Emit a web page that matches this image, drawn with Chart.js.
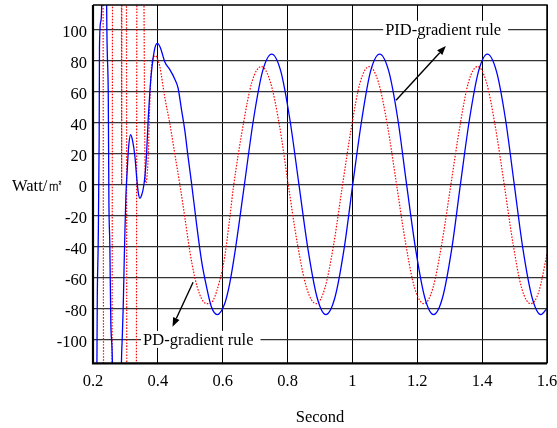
<!DOCTYPE html>
<html>
<head>
<meta charset="utf-8">
<script src="https://cdn.jsdelivr.net/npm/chart.js@4/dist/chart.umd.min.js"></script>
<style>
  html, body { margin: 0; padding: 0; background: #fff; }
  #wrap { width: 557px; height: 428px; position: relative; }
</style>
</head>
<body>
<div id="wrap"><canvas id="chart"></canvas></div>
<script>
// tick labels
const xTicks = [0.2, 0.4, 0.6, 0.8, 1, 1.2, 1.4, 1.6];
const yTicks = [-100, -80, -60, -40, -20, 0, 20, 40, 60, 80, 100];

// PID-gradient rule (solid blue)
const pidTime = [
  0.200, 0.2120, 0.2132, 0.2160, 0.2190, 0.2200, 0.2240, 0.2270, 0.2330,
  0.2380, 0.2420, 0.2470, 0.2490, 0.2520, 0.2550, 0.2600, 0.2700,
  0.2750, 0.2875, 0.2902, 0.2932, 0.2963, 0.2985, 0.3015, 0.3055, 0.3098,
  0.3160, 0.3222, 0.3292, 0.3345, 0.3394, 0.3446, 0.3498, 0.3548, 0.3600,
  0.3652, 0.3702, 0.3754, 0.3806, 0.3908, 0.3991, 0.4080, 0.4215, 0.4370,
  0.4520, 0.4625, 0.4730, 0.4830, 0.4930, 0.5037, 0.5190, 0.5345, 0.5500,
  0.5650, 0.5830, 0.6060, 0.6215, 0.6390, 0.6670, 0.6950, 0.7230, 0.7510,
  0.7790, 0.8070, 0.8350, 0.8630, 0.8910, 0.9180, 0.9460, 0.9740, 1.0010,
  1.0290, 1.0560, 1.0840, 1.1120, 1.1400, 1.1670, 1.1950, 1.2230, 1.2500,
  1.2780, 1.3060, 1.3330, 1.3610, 1.3890, 1.4160, 1.4440, 1.4720, 1.4990,
  1.5260, 1.5540, 1.5810, 1.6000
];
const pidWatt = [
  -400, -118, -74, -38, 30, 89, 105, 118, 400,
  400, 118, 60, -10, -40, -90, -118, -400,
  -400, -118, -99, -79, -49, -30, -7, 9, 24,
  32, 28, 18, 5, -5, -9, -7, -3, 5,
  20, 42, 60, 73, 88, 91, 88, 79, 74,
  68, 62, 48, 35, 18, 1, -25, -49, -66,
  -79, -84, -77, -64, -42, 0, 42, 73, 84,
  73, 42, 0, -42, -73, -84, -73, -42, 0,
  42, 73, 84, 73, 42, 0, -42, -73, -84,
  -73, -42, 0, 42, 73, 84, 73, 42, 0,
  -42, -73, -84, -80
];

// PD-gradient rule (dotted red)
const pdTime = [
  0.200, 0.2310, 0.2325, 0.2450, 0.2587, 0.2602, 0.2740, 0.2878, 0.2884,
  0.2890, 0.2960, 0.3032, 0.3042, 0.3190, 0.3338, 0.3352, 0.3460, 0.3572,
  0.3590, 0.3605, 0.3630, 0.3660, 0.3702, 0.3754, 0.3806, 0.3870, 0.3930,
  0.4000, 0.4060, 0.4215, 0.4370, 0.4520, 0.4677, 0.4830, 0.4985, 0.5138,
  0.5290, 0.5420, 0.5550, 0.5700, 0.5908, 0.6060, 0.6215, 0.6330, 0.6620,
  0.6900, 0.7190, 0.7470, 0.7750, 0.8020, 0.8300, 0.8590, 0.8880, 0.9150,
  0.9420, 0.9690, 0.9970, 1.0240, 1.0520, 1.0800, 1.1080, 1.1360, 1.1640,
  1.1920, 1.2210, 1.2480, 1.2750, 1.3030, 1.3310, 1.3580, 1.3860, 1.4130,
  1.4400, 1.4680, 1.4950, 1.5220, 1.5500, 1.5750, 1.6000
];
const pdWatt = [
  400, 118, -118, -400, -118, 118, 400, 118, 0,
  118, 400, 118, -118, -400, -118, 118, 400, 118,
  50, 10, 1, 4, 18, 54, 76, 82, 83,
  80, 76, 56, 39, 20, 0, -21, -43, -60,
  -71, -76, -77, -75, -62, -47, -22, -2, 37,
  66, 76, 66, 38, 0, -38, -67, -77, -67,
  -39, -1, 37, 66, 76, 66, 38, 0, -38,
  -67, -77, -67, -39, -1, 37, 66, 76, 66,
  38, 0, -38, -67, -77, -69, -45
];

const FONT = { family: '"Liberation Serif", "Times New Roman", serif', size: 16.5 };
const FONT_CSS = '16.5px "Liberation Serif", "Times New Roman", serif';

// text labels sitting on grid lines, arrows pointing at the curves (data coords)
const notes = [
  { text: 'PID-gradient rule', x: 1.2797, y: 100 },
  { text: 'PD-gradient rule',  x: 0.5246, y: -100 },
];
const arrows = [
  { from: [1.1345, 54.3],  to: [1.288, 89.2] },
  { from: [0.5086, -63.2], to: [0.4452, -91.8] },
];

const decor = {
  id: 'decor',
  afterDatasetsDraw(chart) {
    const { ctx, chartArea: a, scales: { x, y } } = chart;
    ctx.save();

    // frame
    ctx.strokeStyle = '#000';
    ctx.lineWidth = 1.5;
    ctx.beginPath();
    ctx.moveTo(a.left, a.top); ctx.lineTo(a.right, a.top); ctx.lineTo(a.right, a.bottom);
    ctx.stroke();
    ctx.lineWidth = 2.2;
    ctx.beginPath();
    ctx.moveTo(a.left, a.top); ctx.lineTo(a.left, a.bottom); ctx.lineTo(a.right, a.bottom);
    ctx.stroke();

    // labels with white boxes
    ctx.font = FONT_CSS;
    ctx.textAlign = 'center';
    ctx.textBaseline = 'alphabetic';
    notes.forEach(n => {
      const cx = x.getPixelForValue(n.x), cy = y.getPixelForValue(n.y);
      const w = ctx.measureText(n.text).width;
      ctx.fillStyle = '#fff';
      ctx.fillRect(cx - w / 2 - 2, cy - 8.5, w + 9, 17);
      ctx.fillStyle = '#000';
      ctx.fillText(n.text, cx, cy + 6);
    });

    // arrows
    ctx.strokeStyle = '#000';
    ctx.fillStyle = '#000';
    ctx.lineWidth = 1.4;
    arrows.forEach(ar => {
      const x0 = x.getPixelForValue(ar.from[0]), y0 = y.getPixelForValue(ar.from[1]);
      const x1 = x.getPixelForValue(ar.to[0]),   y1 = y.getPixelForValue(ar.to[1]);
      const ang = Math.atan2(y1 - y0, x1 - x0);
      const len = 9, hw = 3.5;
      const bx = x1 - len * Math.cos(ang), by = y1 - len * Math.sin(ang);
      ctx.beginPath(); ctx.moveTo(x0, y0); ctx.lineTo(bx, by); ctx.stroke();
      ctx.beginPath();
      ctx.moveTo(x1, y1);
      ctx.lineTo(bx + hw * Math.sin(ang), by - hw * Math.cos(ang));
      ctx.lineTo(bx - hw * Math.sin(ang), by + hw * Math.cos(ang));
      ctx.closePath(); ctx.fill();
    });

    // horizontal y-axis title
    ctx.textAlign = 'left';
    ctx.textBaseline = 'middle';
    ctx.fillText('Watt/㎡', 12, y.getPixelForValue(0) + 2);
    ctx.restore();
  }
};

new Chart(document.getElementById('chart'), {
  type: 'line',
  data: {
    datasets: [
      {
        label: 'PID-gradient rule',
        data: pidTime.map((t, i) => ({ x: t, y: pidWatt[i] })),
        borderColor: '#0000ff', borderWidth: 1.3, pointRadius: 0,
        cubicInterpolationMode: 'monotone'
      },
      {
        label: 'PD-gradient rule',
        data: pdTime.map((t, i) => ({ x: t, y: pdWatt[i] })),
        borderColor: '#ff0000', borderWidth: 1.2, borderDash: [1.5, 1.5], pointRadius: 0,
        cubicInterpolationMode: 'monotone'
      }
    ]
  },
  options: {
    responsive: true, maintainAspectRatio: false, animation: false,
    layout: { padding: { top: 5, right: 0, bottom: 0, left: 0 } },
    plugins: { legend: { display: false }, tooltip: { enabled: false } },
    scales: {
      x: {
        type: 'linear', min: 0.2, max: 1.6,
        afterBuildTicks: s => { s.ticks = xTicks.map(v => ({ value: v })); },
        afterFit: s => { s.paddingRight = 10; },
        ticks: { font: FONT, color: '#000', padding: 8, maxRotation: 0, autoSkip: false,
                 callback: v => String(+Number(v).toFixed(1)) },
        grid: { color: '#000', lineWidth: 1, drawTicks: false },
        border: { display: false },
        title: { display: true, text: 'Second', font: FONT, color: '#000', padding: { top: 9, bottom: 0 } }
      },
      y: {
        type: 'linear', min: -115.5, max: 115.7,
        afterBuildTicks: s => { s.ticks = yTicks.map(v => ({ value: v })); },
        afterFit: s => { s.width = 93; s.paddingTop = 0; s.paddingBottom = 0; },
        ticks: { font: FONT, color: '#000', padding: 6, autoSkip: false, labelOffset: 3 },
        grid: { color: '#333', lineWidth: 1.2, drawTicks: false },
        border: { display: false }
      }
    }
  },
  plugins: [decor]
});
</script>
</body>
</html>
